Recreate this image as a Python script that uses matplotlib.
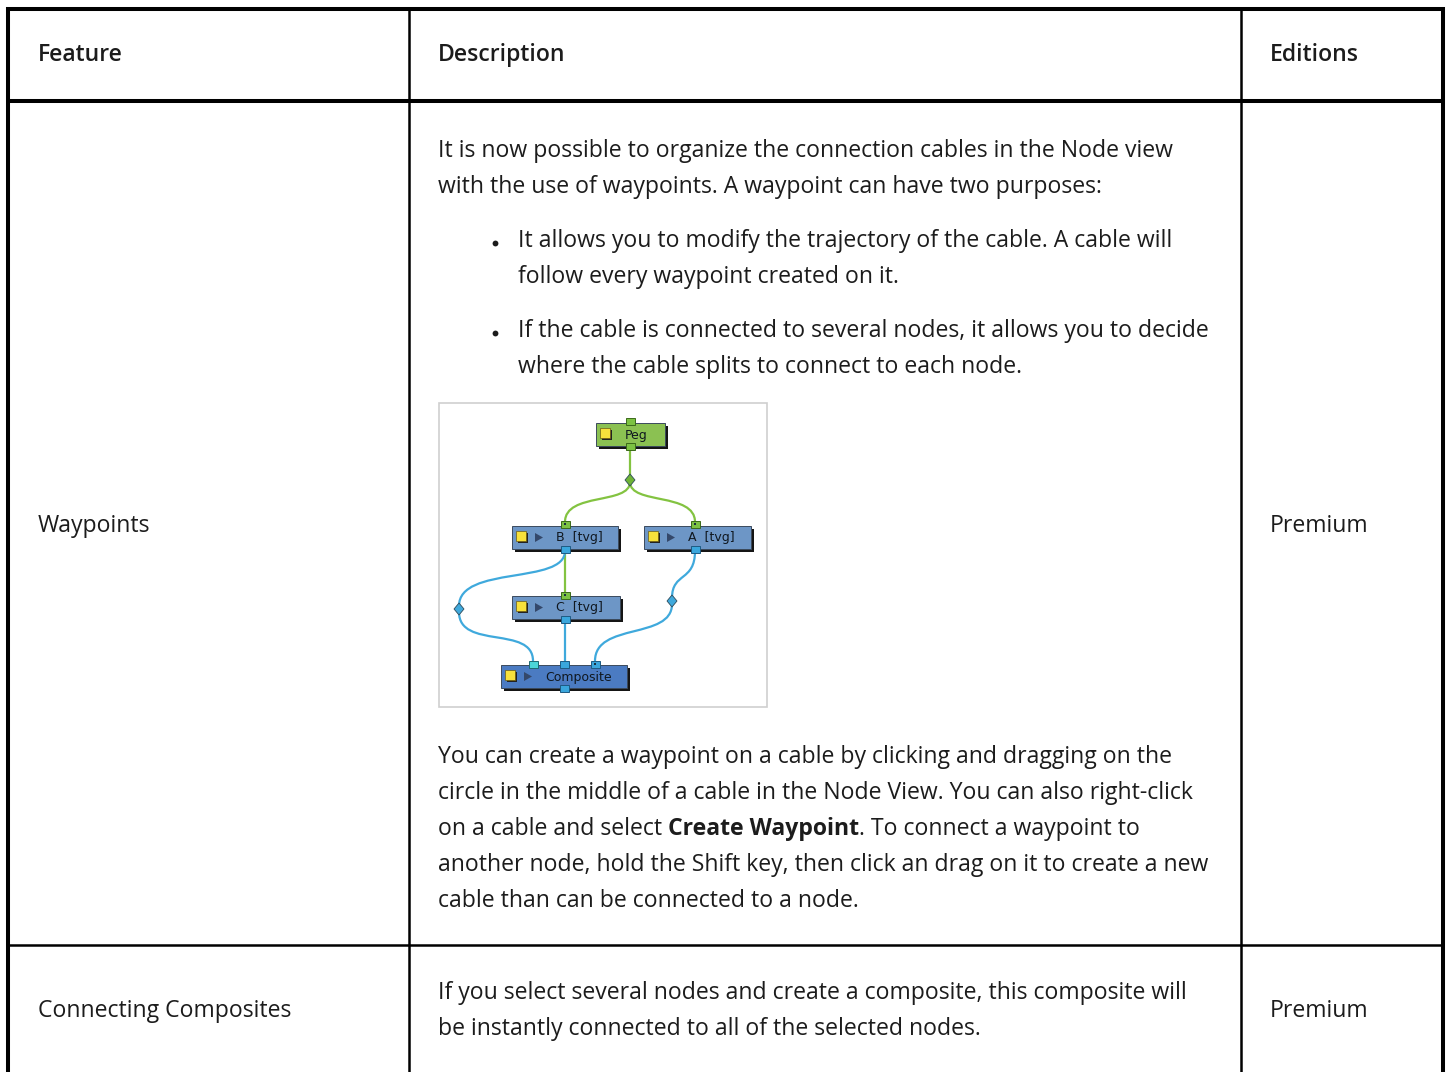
import matplotlib
matplotlib.use("Agg")
import matplotlib.pyplot as plt
from matplotlib.patches import Rectangle, Polygon, PathPatch
from matplotlib.path import Path

# table content
headers = ["Feature", "Description", "Editions"]
features = ["Waypoints", "Connecting Composites"]
editions = ["Premium", "Premium"]
intro_lines = ["It is now possible to organize the connection cables in the Node view",
               "with the use of waypoints. A waypoint can have two purposes:"]
bullets = [["It allows you to modify the trajectory of the cable. A cable will",
            "follow every waypoint created on it."],
           ["If the cable is connected to several nodes, it allows you to decide",
            "where the cable splits to connect to each node."]]
after_lines = [[("You can create a waypoint on a cable by clicking and dragging on the", "normal")],
               [("circle in the middle of a cable in the Node View. You can also right-click", "normal")],
               [("on a cable and select ", "normal"), ("Create Waypoint", "bold"),
                (". To connect a waypoint to", "normal")],
               [("another node, hold the Shift key, then click an drag on it to create a new", "normal")],
               [("cable than can be connected to a node.", "normal")]]
row2_lines = ["If you select several nodes and create a composite, this composite will",
              "be instantly connected to all of the selected nodes."]

# node diagram content
node_names = ["Peg", "B", "A", "C", "Composite"]
node_tags = ["", "[tvg]", "[tvg]", "[tvg]", ""]

FONT = "Open Sans"
FS = 16.6
TXT = "#1c1c1c"

W, H = 1451, 1072
fig = plt.figure(figsize=(W / 100, H / 100), dpi=100)
ax = fig.add_axes([0, 0, 1, 1])
ax.set_xlim(0, W)
ax.set_ylim(H, 0)
ax.axis("off")
renderer = fig.canvas.get_renderer()

# grid lines
thick = 2.9
thin = 1.8
ax.plot([6, 1445], [8.5, 8.5], color="black", lw=thick, solid_capstyle="butt")
ax.plot([6, 1445], [101, 101], color="black", lw=thick, solid_capstyle="butt")
ax.plot([8, 1443], [944.5, 944.5], color="black", lw=thin, solid_capstyle="butt")
ax.plot([8, 8], [6.5, H], color="black", lw=thick, solid_capstyle="butt")
ax.plot([1443, 1443], [6.5, H], color="black", lw=thick, solid_capstyle="butt")
ax.plot([409.3, 409.3], [8, H], color="black", lw=thin, solid_capstyle="butt")
ax.plot([1241, 1241], [8, H], color="black", lw=thin, solid_capstyle="butt")

col_x = [38, 438, 1270]


def put(x, y, s, weight="normal"):
    return ax.text(x, y, s, fontsize=FS, family=FONT, weight=weight, color=TXT,
                   va="baseline", ha="left")


for cx, h in zip(col_x, headers):
    put(cx, 61, h, "semibold")

row_y = [532, 1017]
for y, f, e in zip(row_y, features, editions):
    put(col_x[0], y, f)
    put(col_x[2], y, e)

LH = 36
for i, s in enumerate(intro_lines):
    put(col_x[1], 157 + i * LH, s)

by = [247, 337]
for y0, lines in zip(by, bullets):
    ax.plot([495], [y0 - 4], marker="o", ms=4.2, color=TXT, mew=0)
    for i, s in enumerate(lines):
        put(518, y0 + i * LH, s)

for i, segs in enumerate(after_lines):
    x = col_x[1]
    for s, wt in segs:
        t = put(x, 763 + i * LH, s, wt)
        bb = t.get_window_extent(renderer)
        x += bb.width

for i, s in enumerate(row2_lines):
    put(col_x[1], 999 + i * LH, s)

# ---- node view picture ----
ax.add_patch(Rectangle((439, 403), 328, 304, facecolor="white", edgecolor="#cfcfcf", lw=1.2))

GREEN = "#83c341"
BLUE = "#3fa9dc"


def cable(pts, color):
    codes = [Path.MOVETO, Path.CURVE4, Path.CURVE4, Path.CURVE4]
    ax.add_patch(PathPatch(Path(pts, codes), facecolor="none", edgecolor=color, lw=1.6,
                           zorder=2))


def line(p, q, color):
    ax.plot([p[0], q[0]], [p[1], q[1]], color=color, lw=1.6, zorder=2)


def diamond(x, y, color):
    ax.add_patch(Polygon([(x, y - 6), (x + 5, y), (x, y + 6), (x - 5, y)], closed=True,
                         facecolor=color, edgecolor="#2d4a5a", lw=0.6, zorder=4))


def port(x, y, color, edge, dot=False):
    ax.add_patch(Rectangle((x - 4.5, y - 3.5), 9, 7, facecolor=color, edgecolor=edge,
                           lw=0.7, zorder=6))
    if dot:
        ax.add_patch(Rectangle((x - 1, y - 1), 2, 2, facecolor="#1a3040", lw=0, zorder=7))


def node(x0, y0, w, h, color, name, tag, arrow=True):
    ax.add_patch(Rectangle((x0 + 2.5, y0 + 2.5), w, h, facecolor="#151515", lw=0, zorder=4))
    ax.add_patch(Rectangle((x0, y0), w, h, facecolor=color, edgecolor="#3b4a5c", lw=0.7,
                           zorder=5))
    # yellow square
    ax.add_patch(Rectangle((x0 + 5.5, y0 + 6.5), 10, 10, facecolor="#222222", lw=0, zorder=5))
    ax.add_patch(Rectangle((x0 + 4, y0 + 5), 10, 10, facecolor="#f7e13c", edgecolor="#6b5b10",
                           lw=0.5, zorder=6))
    tx = x0 + 29
    if arrow:
        ax.add_patch(Polygon([(x0 + 23, y0 + h / 2 - 4.5), (x0 + 31, y0 + h / 2),
                              (x0 + 23, y0 + h / 2 + 4.5)], closed=True,
                             facecolor="#34486a", lw=0, zorder=6))
        tx = x0 + 44
    label = name if not tag else name + "  " + tag
    ax.text(tx, y0 + h / 2 + 0.5, label, fontsize=9, family="DejaVu Sans", color="#101820",
            va="center", ha="left", zorder=7)


# cables
line((630, 446), (630, 478), GREEN)
cable([(630, 482), (630, 505), (565, 492), (565, 522)], GREEN)
cable([(630, 482), (630, 505), (695, 492), (695, 522)], GREEN)
line((565, 550), (565, 594), GREEN)
cable([(565, 551), (565, 585), (459, 565), (459, 606)], BLUE)
cable([(459, 612), (459, 650), (533, 625), (533, 661)], BLUE)
line((565, 620), (565, 662), BLUE)
cable([(695, 551), (695, 582), (672, 572), (672, 598)], BLUE)
cable([(672, 604), (672, 640), (595, 622), (595, 661)], BLUE)

diamond(630, 480, "#6fb436")
diamond(459, 609, BLUE)
diamond(672, 601, BLUE)

# nodes
nodes_xy = [(596, 423, 69, 23), (512, 526, 106, 23), (644, 526, 107, 23),
            (512, 596, 108, 23), (501, 665, 126, 23)]
node_colors = ["#8bc152", "#6d96c6", "#6d96c6", "#6d96c6", "#4b7bc2"]
for (x0, y0, w, h), c, n, tg in zip(nodes_xy, node_colors, node_names, node_tags):
    node(x0, y0, w, h, c, n, tg, arrow=(n != "Peg"))

# ports
GP, GE = "#7cc242", "#3b6a1a"
BP, BE = "#3aa6dc", "#1e5a82"
port(630, 421, GP, GE)
port(630, 446, GP, GE)
port(565, 524, GP, GE, dot=True)
port(695, 524, GP, GE, dot=True)
port(565, 549, BP, BE)
port(695, 549, BP, BE)
port(565, 595, GP, GE, dot=True)
port(565, 619, BP, BE)
port(533, 664, "#4cd6d8", "#1e6a72")
port(564, 664, BP, BE)
port(595, 664, BP, BE, dot=True)
port(564, 688, BP, BE)

fig.savefig("out.png", dpi=100, facecolor="white")
